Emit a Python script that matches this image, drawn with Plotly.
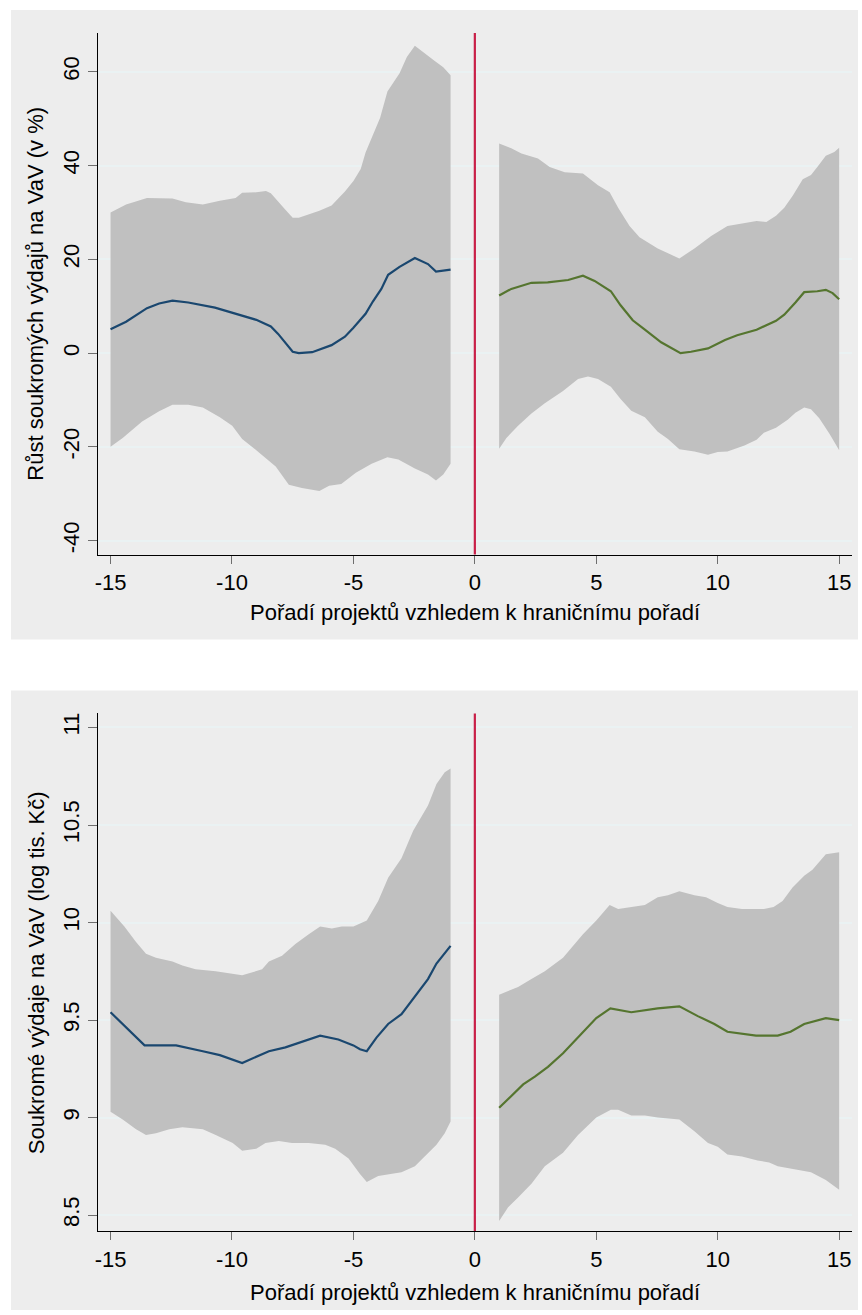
import plotly.graph_objects as go

# ---------------- Top panel: growth of private R&D spending (%) ----------------
top_left_up_x = [-15, -14.36, -13.5, -12.45, -11.9, -11.2, -10.5, -9.85, -9.58, -9.0, -8.6, -8.4, -7.8, -7.5,
                 -7.25, -6.4, -5.9, -5.35, -5.0, -4.7, -4.5, -4.2, -3.9, -3.6, -3.1, -2.8, -2.47, -1.65, -1.3, -1.0]
top_left_up = [30.0, 31.7, 33.1, 33.0, 32.2, 31.7, 32.5, 33.1, 34.2, 34.3, 34.6, 34.1, 30.6, 28.9,
               28.9, 30.4, 31.5, 34.5, 36.7, 39.3, 42.8, 46.7, 50.2, 55.8, 59.7, 63.2, 65.6, 62.3, 61.0, 59.3]
top_left_lo_x = [-15, -14.5, -13.7, -13.0, -12.45, -11.8, -11.2, -10.5, -9.99, -9.58, -9.0, -8.2, -7.66, -7.12,
                 -6.4, -6.0, -5.5, -4.9, -4.25, -3.6, -3.15, -2.47, -1.93, -1.6, -1.3, -1.0]
top_left_lo = [-20.0, -18.1, -14.6, -12.4, -11.0, -11.0, -11.6, -13.7, -15.5, -18.3, -20.7, -24.2, -28.1, -28.8,
               -29.4, -28.3, -27.9, -25.5, -23.6, -22.2, -22.7, -24.6, -25.9, -27.2, -25.9, -23.6]
top_left_fit_x = [-15, -14.36, -13.5, -13.0, -12.45, -11.8, -10.7, -9.85, -9.0, -8.4, -8.1, -7.5, -7.25, -6.7,
                  -5.9, -5.35, -5.0, -4.5, -4.2, -3.85, -3.57, -3.1, -2.47, -1.93, -1.6, -1.0]
top_left_fit = [5.1, 6.7, 9.6, 10.6, 11.2, 10.8, 9.7, 8.4, 7.1, 5.7, 4.1, 0.3, 0.0, 0.2,
                1.7, 3.5, 5.4, 8.4, 11.0, 13.7, 16.7, 18.4, 20.3, 19.0, 17.4, 17.8]

top_right_up_x = [1.0, 1.5, 1.92, 2.6, 3.08, 3.7, 4.45, 5.07, 5.55, 5.9, 6.37, 6.78, 7.53, 8.08, 8.42, 9.04,
                  9.73, 10.4, 11.1, 11.6, 12.0, 12.4, 12.74, 13.1, 13.5, 13.84, 14.1, 14.45, 14.8, 15.0]
top_right_up = [44.7, 43.7, 42.6, 41.5, 39.7, 38.6, 38.3, 35.8, 34.3, 31.0, 27.1, 24.7, 22.3, 20.9, 20.2, 22.3,
                25.0, 27.1, 27.8, 28.2, 28.0, 29.3, 31.0, 33.7, 37.1, 38.0, 39.7, 42.1, 42.9, 43.8]
top_right_lo_x = [1.0, 1.3, 1.78, 2.33, 2.88, 3.63, 4.25, 4.66, 5.07, 5.6, 6.0, 6.44, 7.0, 7.53, 7.95, 8.42,
                  9.04, 9.6, 10.0, 10.4, 11.1, 11.6, 11.9, 12.4, 12.88, 13.2, 13.56, 13.84, 14.18, 14.6, 15.0]
top_right_lo = [-20.4, -18.1, -15.5, -12.9, -10.7, -8.1, -5.5, -5.0, -5.5, -7.2, -9.8, -12.3, -13.7, -16.8, -18.3, -20.5,
                -21.0, -21.7, -21.1, -21.0, -19.7, -18.5, -17.0, -15.9, -14.2, -12.7, -11.6, -12.0, -13.9, -17.2, -20.7]
top_right_fit_x = [1.0, 1.5, 2.33, 3.0, 3.84, 4.45, 4.93, 5.6, 6.0, 6.5, 7.0, 7.67, 8.47, 8.9, 9.6, 10.3,
                   10.8, 11.6, 12.4, 12.74, 13.2, 13.56, 14.1, 14.45, 14.73, 15.0]
top_right_fit = [12.3, 13.7, 15.0, 15.1, 15.6, 16.5, 15.4, 13.2, 10.2, 7.0, 5.0, 2.3, 0.0, 0.3, 1.0, 2.8,
                 3.8, 5.0, 6.9, 8.2, 10.8, 13.0, 13.2, 13.5, 12.8, 11.5]

# ---------------- Bottom panel: private R&D spending (log thousand CZK) ----------------
bot_left_up_x = [-15, -14.43, -13.95, -13.54, -13.13, -12.45, -12.04, -11.5, -10.67, -9.58, -8.76, -8.48, -7.94, -7.39,
                 -6.84, -6.37, -5.89, -5.48, -5.0, -4.45, -3.98, -3.57, -3.02, -2.54, -1.93, -1.58, -1.24, -1.0]
bot_left_up = [10.06, 9.98, 9.90, 9.84, 9.82, 9.80, 9.78, 9.76, 9.75, 9.73, 9.76, 9.80, 9.83, 9.89,
               9.94, 9.98, 9.97, 9.98, 9.98, 10.01, 10.11, 10.23, 10.33, 10.47, 10.60, 10.71, 10.77, 10.79]
bot_left_lo_x = [-15, -14.5, -13.95, -13.54, -13.13, -12.58, -12.04, -11.2, -10.67, -9.97, -9.58, -9.0, -8.62, -8.07,
                 -7.53, -6.84, -6.16, -5.75, -5.2, -4.73, -4.45, -3.98, -3.43, -3.02, -2.47, -2.06, -1.58, -1.24, -1.0]
bot_left_lo = [9.03, 8.99, 8.94, 8.91, 8.92, 8.94, 8.95, 8.94, 8.91, 8.87, 8.83, 8.84, 8.87, 8.88,
               8.87, 8.87, 8.86, 8.84, 8.79, 8.71, 8.67, 8.70, 8.71, 8.72, 8.75, 8.80, 8.86, 8.92, 8.98]
bot_left_fit_x = [-15, -14.36, -13.6, -13.13, -12.3, -11.2, -10.5, -9.58, -9.0, -8.48, -7.8, -7.12, -6.37, -5.62,
                  -5.0, -4.73, -4.45, -4.05, -3.57, -3.02, -2.47, -1.93, -1.58, -1.0]
bot_left_fit = [9.54, 9.46, 9.37, 9.37, 9.37, 9.34, 9.32, 9.28, 9.31, 9.34, 9.36, 9.39, 9.42, 9.40,
                9.37, 9.35, 9.34, 9.41, 9.48, 9.53, 9.62, 9.71, 9.79, 9.88]

bot_right_up_x = [1.0, 1.78, 2.33, 2.88, 3.63, 4.45, 5.0, 5.55, 5.9, 6.44, 7.0, 7.53, 7.95, 8.42, 9.04, 9.52,
                  10.0, 10.4, 11.0, 11.9, 12.3, 12.67, 13.08, 13.56, 13.9, 14.45, 15.0]
bot_right_up = [9.63, 9.67, 9.71, 9.75, 9.82, 9.94, 10.01, 10.09, 10.07, 10.08, 10.09, 10.13, 10.14, 10.16, 10.14, 10.13,
                10.10, 10.08, 10.07, 10.07, 10.08, 10.11, 10.18, 10.24, 10.27, 10.35, 10.36]
bot_right_lo_x = [1.0, 1.37, 1.78, 2.33, 2.88, 3.63, 4.25, 5.0, 5.6, 5.9, 6.44, 7.0, 7.53, 8.42, 9.04, 9.6,
                  10.0, 10.4, 11.0, 11.64, 12.12, 12.47, 13.0, 13.84, 14.45, 15.0]
bot_right_lo = [8.47, 8.54, 8.59, 8.66, 8.75, 8.82, 8.91, 9.00, 9.04, 9.04, 9.01, 9.01, 9.00, 8.99, 8.93, 8.87,
                8.85, 8.81, 8.80, 8.78, 8.77, 8.75, 8.74, 8.72, 8.68, 8.63]
bot_right_fit_x = [1.0, 1.5, 1.99, 2.47, 3.01, 3.63, 4.45, 5.0, 5.58, 6.44, 7.53, 8.42, 9.18, 9.86, 10.4, 11.58,
                   12.47, 13.0, 13.56, 14.45, 15.0]
bot_right_fit = [9.05, 9.11, 9.17, 9.21, 9.26, 9.33, 9.44, 9.51, 9.56, 9.54, 9.56, 9.57, 9.52, 9.48, 9.44, 9.42,
                 9.42, 9.44, 9.48, 9.51, 9.50]

x_ticks = [-15, -10, -5, 0, 5, 10, 15]
x_ticklabels = ["-15", "-10", "-5", "0", "5", "10", "15"]
top_y_ticks = [-40, -20, 0, 20, 40, 60]
top_y_ticklabels = ["-40", "-20", "0", "20", "40", "60"]
bot_y_ticks = [8.5, 9, 9.5, 10, 10.5, 11]
bot_y_ticklabels = ["8.5", "9", "9.5", "10", "10.5", "11"]

x_title = "Pořadí projektů vzhledem k hraničnímu pořadí"
top_y_title = "Růst soukromých výdajů na VaV (v %)"
bot_y_title = "Soukromé výdaje na VaV (log tis. Kč)"

BAND = "#C0C0C0"
BLUE = "#1A476F"
GREEN = "#55752F"
RED = "#C91F48"
GRID = "#EAF2F3"
PANEL = "#EDEDED"
FONT = "Liberation Sans, Arial, sans-serif"
FS = 22

W, H = 862, 1315

fig = go.Figure()


def add_side(xa, ya, up_x, up, lo_x, lo, fit_x, fit, color):
    fig.add_trace(go.Scatter(
        x=list(up_x) + list(lo_x)[::-1], y=list(up) + list(lo)[::-1],
        fill="toself", fillcolor=BAND, line=dict(width=0), mode="lines",
        xaxis=xa, yaxis=ya, hoverinfo="skip", showlegend=False))
    fig.add_trace(go.Scatter(
        x=fit_x, y=fit, mode="lines", line=dict(color=color, width=2.2),
        xaxis=xa, yaxis=ya, showlegend=False))


add_side("x", "y", top_left_up_x, top_left_up, top_left_lo_x, top_left_lo, top_left_fit_x, top_left_fit, BLUE)
add_side("x", "y", top_right_up_x, top_right_up, top_right_lo_x, top_right_lo, top_right_fit_x, top_right_fit, GREEN)
add_side("x2", "y2", bot_left_up_x, bot_left_up, bot_left_lo_x, bot_left_lo, bot_left_fit_x, bot_left_fit, BLUE)
add_side("x2", "y2", bot_right_up_x, bot_right_up, bot_right_lo_x, bot_right_lo, bot_right_fit_x, bot_right_fit, GREEN)

# pixel geometry
PX_L, PX_R = 95, 852
TOP_T, TOP_B = 32, 554
BOT_T, BOT_B = 713, 1231


def fx(px):
    return px / W


def fy(py):
    return 1 - py / H


x_range = [-15.53, 15.53]
common_x = dict(range=x_range, tickmode="array", tickvals=x_ticks, ticktext=x_ticklabels, ticks="outside",
                ticklen=8, tickwidth=1.3, tickcolor="#6E6E6E", showline=True, linecolor="black", linewidth=1.3,
                showgrid=False, zeroline=False, tickfont=dict(family=FONT, size=FS, color="black"),
                fixedrange=True)
common_y = dict(ticks="outside", ticklen=9, tickwidth=1.3, tickcolor="#6E6E6E", showline=True, linecolor="black",
                linewidth=1.3, showgrid=True, gridcolor=GRID, gridwidth=1.5, zeroline=False, tickangle=-90,
                tickfont=dict(family=FONT, size=FS, color="black"), fixedrange=True)

fig.update_layout(
    width=W, height=H, autosize=False,
    margin=dict(l=0, r=0, t=0, b=0),
    paper_bgcolor="white", plot_bgcolor="white",
    font=dict(family=FONT, size=FS, color="black"),
    xaxis=dict(domain=[fx(PX_L), fx(PX_R)], anchor="y", **common_x),
    yaxis=dict(domain=[fy(TOP_B), fy(TOP_T)], anchor="x", range=[-42.98, 68.3], tickmode="array",
               tickvals=top_y_ticks, ticktext=top_y_ticklabels, **common_y),
    xaxis2=dict(domain=[fx(PX_L), fx(PX_R)], anchor="y2", **common_x),
    yaxis2=dict(domain=[fy(BOT_B), fy(BOT_T)], anchor="x2", range=[8.418, 11.072], tickmode="array",
                tickvals=bot_y_ticks, ticktext=bot_y_ticklabels, **common_y),
    shapes=[
        dict(type="rect", xref="paper", yref="paper", x0=fx(8), x1=fx(858), y0=fy(639), y1=fy(9),
             fillcolor=PANEL, line=dict(width=0), layer="below"),
        dict(type="rect", xref="paper", yref="paper", x0=fx(8), x1=fx(858), y0=fy(1310), y1=fy(690),
             fillcolor=PANEL, line=dict(width=0), layer="below"),
        dict(type="line", xref="x", yref="y domain", x0=0, x1=0, y0=0, y1=1, line=dict(color=RED, width=2.2)),
        dict(type="line", xref="x2", yref="y2 domain", x0=0, x1=0, y0=0, y1=1, line=dict(color=RED, width=2.2)),
    ],
    annotations=[
        dict(text=x_title, xref="paper", yref="paper", x=fx((PX_L + PX_R) / 2), y=fy(612), showarrow=False,
             xanchor="center", yanchor="middle", font=dict(family=FONT, size=FS)),
        dict(text=x_title, xref="paper", yref="paper", x=fx((PX_L + PX_R) / 2), y=fy(1292), showarrow=False,
             xanchor="center", yanchor="middle", font=dict(family=FONT, size=FS)),
        dict(text=top_y_title, xref="paper", yref="paper", x=fx(33), y=fy((TOP_T + TOP_B) / 2), showarrow=False,
             textangle=-90, xanchor="center", yanchor="middle", font=dict(family=FONT, size=FS)),
        dict(text=bot_y_title, xref="paper", yref="paper", x=fx(33), y=fy((BOT_T + BOT_B) / 2), showarrow=False,
             textangle=-90, xanchor="center", yanchor="middle", font=dict(family=FONT, size=FS)),
    ],
)

fig.write_html("out.html", config={"displayModeBar": False},
               post_script="document.body.style.margin='0';document.body.style.overflow='hidden';")
